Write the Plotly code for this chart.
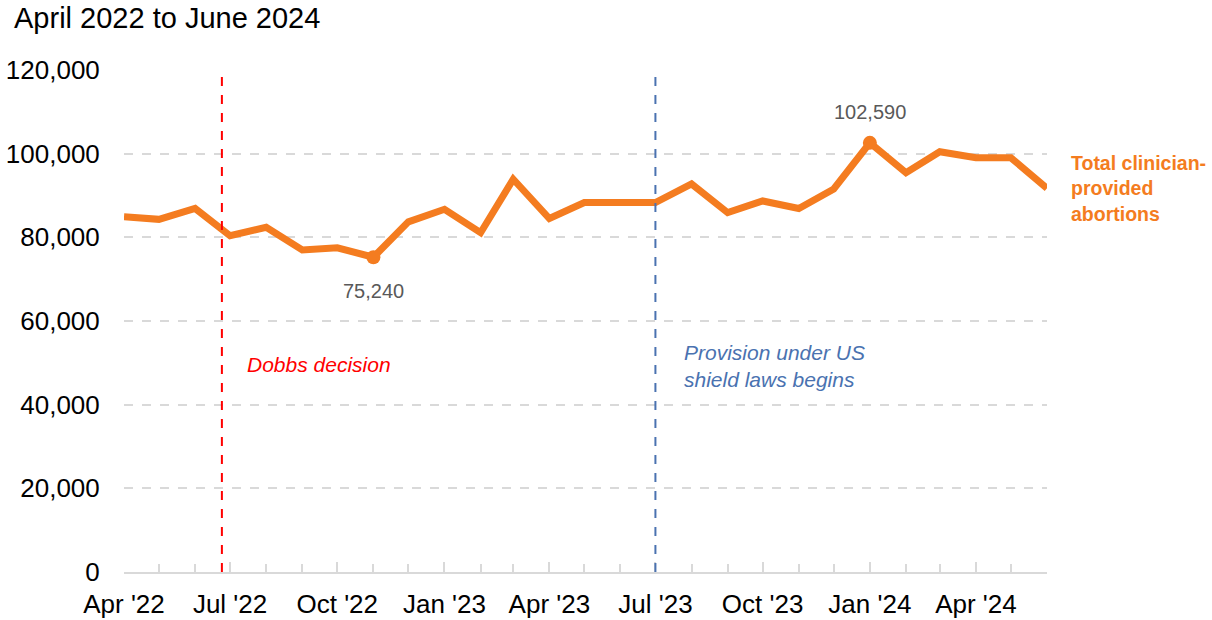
import plotly.graph_objects as go

months = ["2022-04-01", "2022-05-01", "2022-06-01", "2022-07-01", "2022-08-01", "2022-09-01",
          "2022-10-01", "2022-11-01", "2022-12-01", "2023-01-01", "2023-02-01", "2023-03-01",
          "2023-04-01", "2023-05-01", "2023-06-01", "2023-07-01", "2023-08-01", "2023-09-01",
          "2023-10-01", "2023-11-01", "2023-12-01", "2024-01-01", "2024-02-01", "2024-03-01",
          "2024-04-01", "2024-05-01", "2024-06-01"]
abortions = [84900, 84300, 86900, 80400, 82400, 77000,
             77500, 75240, 83700, 86700, 81100, 93900,
             84500, 88300, 88300, 88300, 92750, 85900,
             88700, 86900, 91550, 102590, 95450, 100470,
             99030, 99030, 91720]

highlight_months = ["2022-11-01", "2024-01-01"]
highlight_values = [75240, 102590]
highlight_labels = ["75,240", "102,590"]

dobbs_date = "2022-06-24"
shield_date = "2023-07-01"

title_text = "April 2022 to June 2024"
series_label = "Total clinician-<br>provided<br>abortions"

ORANGE = "#F47C20"
FONT = "Liberation Sans, Arial, sans-serif"
GRID = "#D9D9D9"

fig = go.Figure()
fig.add_trace(go.Scatter(
    x=months, y=abortions, mode="lines",
    line=dict(color=ORANGE, width=7),
    hoverinfo="skip", showlegend=False,
))
fig.add_trace(go.Scatter(
    x=highlight_months, y=highlight_values, mode="markers",
    marker=dict(color=ORANGE, size=14),
    hoverinfo="skip", showlegend=False,
))

# vertical event lines
fig.add_shape(type="line", xref="x", yref="paper", x0=dobbs_date, x1=dobbs_date, y0=0, y1=0.99,
              line=dict(color="#FF0000", width=2, dash="dash"))
fig.add_shape(type="line", xref="x", yref="paper", x0=shield_date, x1=shield_date, y0=0, y1=1,
              line=dict(color="#4A72B0", width=2, dash="dash"))

fig.add_annotation(x=dobbs_date, y=49500, xref="x", yref="y", text="<i>Dobbs decision</i>",
                   showarrow=False, xanchor="left", yanchor="middle", xshift=23,
                   font=dict(family=FONT, size=21, color="#FF0000"))
fig.add_annotation(x=shield_date, y=49300, xref="x", yref="y",
                   text="<i>Provision under US<br>shield laws begins</i>",
                   showarrow=False, xanchor="left", yanchor="middle", align="left", xshift=27,
                   font=dict(family=FONT, size=21, color="#4A72B0"))

# point labels
fig.add_annotation(x=highlight_months[0], y=highlight_values[0], text=highlight_labels[0],
                   showarrow=False, yshift=-34, font=dict(family=FONT, size=20, color="#595959"))
fig.add_annotation(x=highlight_months[1], y=highlight_values[1], text=highlight_labels[1],
                   showarrow=False, yshift=31, font=dict(family=FONT, size=20, color="#595959"))

# series label
fig.add_annotation(x=months[-1], y=abortions[-1], text="<b>" + series_label + "</b>",
                   showarrow=False, xanchor="left", yanchor="middle", align="left", xshift=22,
                   font=dict(family=FONT, size=19.5, color=ORANGE))

fig.update_layout(
    width=1212, height=620,
    margin=dict(l=124, r=165, t=70, b=48, autoexpand=False),
    plot_bgcolor="white", paper_bgcolor="white",
    font=dict(family=FONT, color="#000000"),
    title=dict(text=title_text, x=14 / 1212, xanchor="left", xref="container",
               y=1 - 18 / 620, yanchor="middle", yref="container",
               font=dict(family=FONT, size=29, color="#000000")),
)
fig.update_xaxes(
    type="date", range=[months[0], months[-1]], automargin=False,
    tick0=months[0], dtick="M3", tickformat="%b '%y",
    ticks="inside", ticklen=10, tickwidth=2, tickcolor=GRID,
    minor=dict(dtick="M1", ticks="inside", ticklen=8, tickwidth=2, tickcolor=GRID, showgrid=False),
    showline=True, linecolor=GRID, linewidth=2,
    showgrid=False, zeroline=False,
    tickfont=dict(family=FONT, size=26, color="#000000"),
    ticklabelstandoff=8,
)
fig.update_yaxes(
    range=[0, 120000], dtick=20000, tickformat=",", automargin=False,
    showgrid=True, gridcolor=GRID, gridwidth=2, griddash="dash",
    zeroline=False, showline=False,
    ticks="outside", ticklen=18, tickcolor="rgba(0,0,0,0)",
    tickfont=dict(family=FONT, size=26, color="#000000"),
)

fig.write_html("out.html", config={"displayModeBar": False},
               post_script="document.body.style.margin='0';document.body.style.overflow='hidden';")
